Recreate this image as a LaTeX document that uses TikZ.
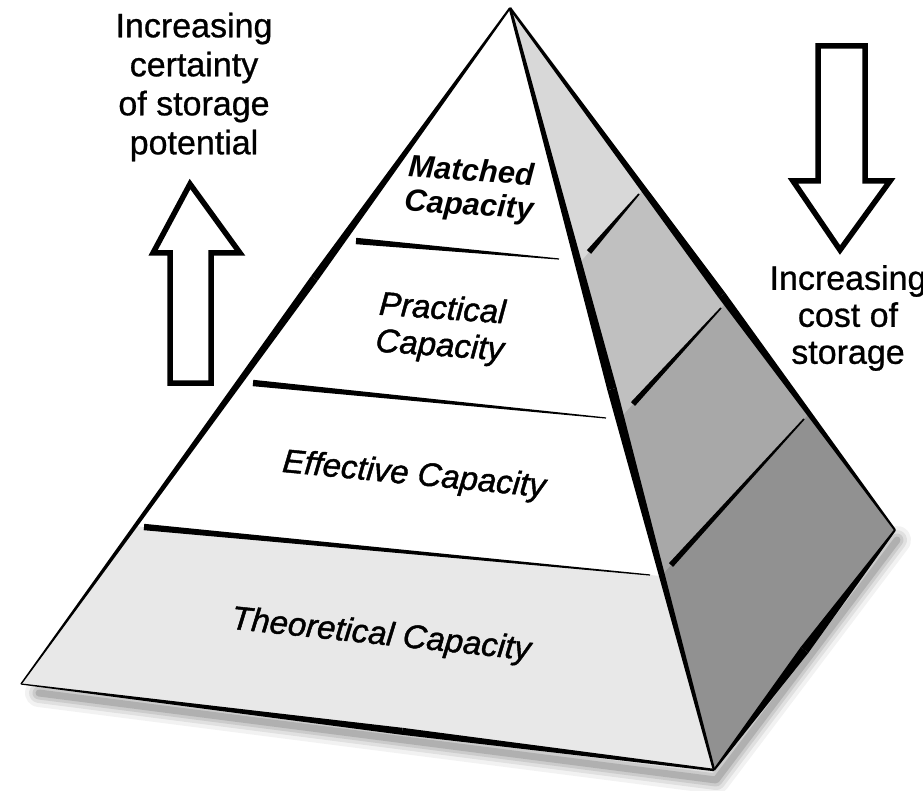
\documentclass[tikz,border=0pt]{standalone}
\usepackage{fontspec}
\setmainfont{Liberation Sans}
\newfontfamily\heavy[FakeBold=1.3]{Liberation Sans}
\newfontfamily\sideheavy[FakeBold=0.8]{Liberation Sans}
\usetikzlibrary{calc}
\definecolor{fbot}{HTML}{E8E8E8}
\definecolor{rA}{HTML}{D8D8D8}
\definecolor{rB}{HTML}{C0C0C0}
\definecolor{rC}{HTML}{A8A8A8}
\definecolor{rD}{HTML}{919191}
\newcommand{\taperline}[4]{%
  \fill ($(#1)!#3!90:(#2)$) -- ($(#2)!#4!-90:(#1)$) -- ($(#2)!#4!90:(#1)$) -- ($(#1)!#3!-90:(#2)$) -- cycle;}
\tikzset{
  blockarrow/.style={draw=black, line width=5.5pt, fill=white, line join=miter, miter limit=10},
  sidetext/.style={align=center, inner sep=0pt, font=\fontsize{34}{39}\selectfont\sideheavy},
  bandtext/.style={align=center, inner sep=0pt, font=\fontsize{33}{37}\selectfont\heavy\itshape},
}
\begin{document}
\begin{tikzpicture}[x=1pt,y=-1pt]
\useasboundingbox (0,0) rectangle (923,791);
\fill[white] (0,0) rectangle (923,791);
% corners
\coordinate (A) at (510,8);
\coordinate (L) at (21,684);
\coordinate (B) at (714,770);
\coordinate (R) at (895,530);
% front band separators
\coordinate (f1a) at (356,241); \coordinate (f1b) at (559,259);
\coordinate (f2a) at (253,383); \coordinate (f2b) at (606,418);
\coordinate (f3a) at (144,527); \coordinate (f3b) at (650,575);
% right band separators
\coordinate (r1a) at (589,252); \coordinate (r1b) at (639,194);
\coordinate (r2a) at (633,404); \coordinate (r2b) at (721,308);
\coordinate (r3a) at (671,565); \coordinate (r3b) at (804,419);
% shadow
\foreach \w/\o in {28/0.05, 20/0.07, 13/0.09, 7/0.13}
  \draw[black, opacity=\o, line width=\w pt, line join=round, line cap=round]
    ($(L)+(18,9)$) -- ($(B)+(2,10)$) -- ($(R)+(2,10)$);
% front face
\fill[white] (A) -- (L) -- (B) -- cycle;
\fill[fbot] (intersection of A--L and f3a--f3b) -- (L) -- (B) -- (intersection of A--B and f3a--f3b) -- cycle;
% right face
\fill[rD] (A) -- (B) -- (R) -- cycle;
\fill[rC] (A) -- (intersection of A--B and r3a--r3b) -- (intersection of A--R and r3a--r3b) -- cycle;
\fill[rB] (A) -- (intersection of A--B and r2a--r2b) -- (intersection of A--R and r2a--r2b) -- cycle;
\fill[rA] (A) -- (intersection of A--B and r1a--r1b) -- (intersection of A--R and r1a--r1b) -- cycle;
% edges
\coordinate (mAL) at ($(A)!0.4!(L)$);
\coordinate (mAB) at ($(A)!0.5!(B)$);
\coordinate (mAR) at ($(A)!0.55!(R)$);
\coordinate (mRB) at ($(R)!0.5!(B)$);
\coordinate (mLB) at ($(L)!0.55!(B)$);
\taperline{A}{mAL}{1pt}{4pt}
\taperline{mAL}{L}{4pt}{0.7pt}
\taperline{A}{mAB}{1.4pt}{4.8pt}
\taperline{mAB}{B}{4.8pt}{1.2pt}
\taperline{A}{mAR}{1.2pt}{4.2pt}
\taperline{mAR}{R}{4.2pt}{1pt}
\taperline{R}{mRB}{1pt}{4.8pt}
\taperline{mRB}{B}{4.8pt}{1pt}
\taperline{L}{mLB}{0.6pt}{3.5pt}
\taperline{mLB}{B}{3.5pt}{1.2pt}
% band separators
\taperline{f1a}{f1b}{3.2pt}{0.6pt}
\taperline{f2a}{f2b}{3.2pt}{0.6pt}
\taperline{f3a}{f3b}{3.2pt}{0.6pt}
\taperline{r1a}{r1b}{2.8pt}{0.8pt}
\taperline{r2a}{r2b}{2.8pt}{0.8pt}
\taperline{r3a}{r3b}{2.8pt}{0.8pt}
% band labels
\node[bandtext, font=\fontsize{31}{34}\selectfont\bfseries\itshape, rotate=-4] (matched) at (470,190) {Matched\\Capacity};
\node[bandtext, rotate=-4] (practical) at (441,329) {Practical\\Capacity};
\node[bandtext, rotate=-5.5] (effective) at (414,476) {Effective Capacity};
\node[bandtext, rotate=-6] (theoretical) at (381,636) {Theoretical Capacity};
% block arrows
\draw[blockarrow] (190,184) -- (240,253) -- (211,253) -- (211,383) -- (170,383) -- (170,253) -- (153,253) -- cycle;
\draw[blockarrow] (818,46) -- (865,46) -- (865,181) -- (890,181) -- (840,250) -- (793,181) -- (818,181) -- cycle;
% side texts
\node[sidetext] (certainty) at (194,87) {Increasing\\certainty\\of storage\\potential};
\node[sidetext, font=\fontsize{34}{37}\selectfont\sideheavy] (cost) at (848,318) {Increasing\\cost of\\storage};
\end{tikzpicture}
\end{document}
